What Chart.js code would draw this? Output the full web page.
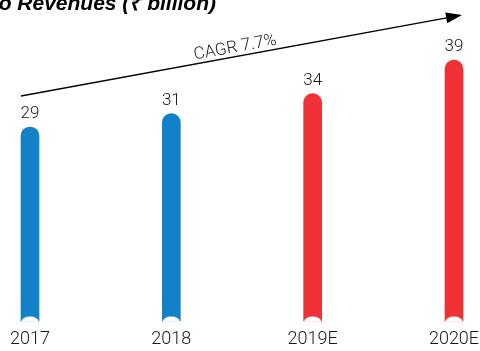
<!DOCTYPE html>
<html>
<head>
<meta charset="utf-8">
<script src="https://cdn.jsdelivr.net/npm/chart.js@4"></script>
<style>
  html, body { margin: 0; padding: 0; background: #fff; }
  #wrap { width: 480px; height: 351px; }
</style>
</head>
<body>
<div id="wrap"><canvas id="revChart"></canvas></div>
<script>
const years = ['2017', '2018', '2019E', '2020E'];
const revenues = [29, 31, 34, 39];
const barColors = ['#1381C7', '#1381C7', '#F03237', '#F03237'];
const titleText = 'Radio Revenues (₹ billion)';
const cagrText = 'CAGR 7.7%';

const FONT = 'Roboto, "Liberation Sans", sans-serif';

// value labels, notch at bar foot, growth arrow, clipped title
const decorations = {
  id: 'decorations',
  afterDatasetsDraw(chart) {
    const ctx = chart.ctx;
    const meta = chart.getDatasetMeta(0);
    ctx.save();
    meta.data.forEach((bar, i) => {
      const half = bar.width / 2;
      ctx.fillStyle = '#fff';
      ctx.beginPath();
      ctx.ellipse(bar.x, bar.base + 0.5, half - 0.5, 5, 0, Math.PI, 2 * Math.PI);
      ctx.fill();

      ctx.fillStyle = '#1a1a1a';
      ctx.font = '300 17px ' + FONT;
      ctx.textAlign = 'center';
      ctx.textBaseline = 'middle';
      ctx.fillText(revenues[i], bar.x, bar.y - 13);
    });

    // arrow from first bar towards the right edge
    const first = meta.data[0];
    const x0 = first.x - 9, y0 = 96;
    const x1 = 462, y1 = 15;
    const ang = Math.atan2(y1 - y0, x1 - x0);
    ctx.strokeStyle = '#000';
    ctx.lineWidth = 1.3;
    ctx.beginPath();
    ctx.moveTo(x0, y0);
    ctx.lineTo(x1 - 10 * Math.cos(ang), y1 - 10 * Math.sin(ang));
    ctx.stroke();
    ctx.fillStyle = '#000';
    ctx.beginPath();
    ctx.moveTo(x1, y1);
    ctx.lineTo(x1 - 16 * Math.cos(ang) + 5.5 * Math.sin(ang), y1 - 16 * Math.sin(ang) - 5.5 * Math.cos(ang));
    ctx.lineTo(x1 - 16 * Math.cos(ang) - 5.5 * Math.sin(ang), y1 - 16 * Math.sin(ang) + 5.5 * Math.cos(ang));
    ctx.closePath();
    ctx.fill();

    ctx.save();
    ctx.translate(236, 52);
    ctx.rotate(ang);
    ctx.fillStyle = '#1a1a1a';
    ctx.font = '300 17px ' + FONT;
    ctx.textAlign = 'center';
    ctx.textBaseline = 'alphabetic';
    ctx.fillText(cagrText, 0, 0);
    ctx.restore();

    ctx.fillStyle = '#000';
    ctx.font = 'italic bold 21px "Liberation Sans", Arial, sans-serif';
    ctx.textAlign = 'right';
    ctx.textBaseline = 'alphabetic';
    ctx.fillText(titleText, 216, 10);
    ctx.restore();
  }
};

new Chart(document.getElementById('revChart'), {
  type: 'bar',
  data: {
    labels: years,
    datasets: [{
      data: revenues,
      backgroundColor: barColors,
      barThickness: 18,
      borderRadius: { topLeft: 9, topRight: 9, bottomLeft: 0, bottomRight: 0 },
      borderSkipped: false,
      clip: false
    }]
  },
  options: {
    responsive: true,
    maintainAspectRatio: false,
    animation: false,
    layout: { padding: { top: 0, left: 0, right: 0, bottom: 3 } },
    plugins: { legend: { display: false }, tooltip: { enabled: false } },
    scales: {
      x: {
        offset: false,
        afterFit(scale) {
          scale.paddingLeft = 30;
          scale.paddingRight = 26;
          scale.height = 27;
        },
        grid: { display: false, drawTicks: false, tickLength: 0 },
        border: { display: false },
        ticks: { color: '#1a1a1a', font: { family: FONT, size: 18, weight: '300' }, padding: 8, maxRotation: 0 }
      },
      y: {
        display: false,
        min: 0,
        max: 48
      }
    }
  },
  plugins: [decorations]
});
</script>
</body>
</html>
